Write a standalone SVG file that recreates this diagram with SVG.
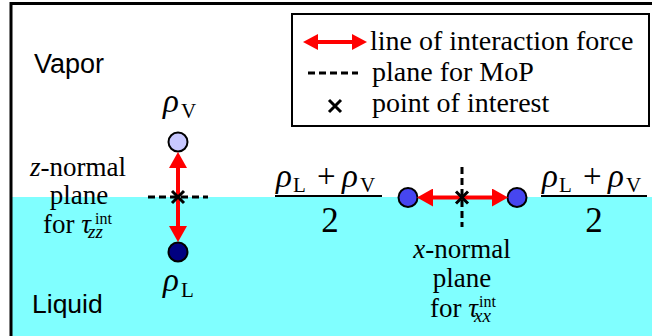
<svg xmlns="http://www.w3.org/2000/svg" width="652" height="336" viewBox="0 0 652 336">
<defs>
<style>
text{fill:#000}
.sans{font-family:'Liberation Sans',Arial,sans-serif}
.it{font-style:italic}
.arrow{stroke:#f00;stroke-width:4;fill:none}
.dash{stroke:#000;stroke-width:3;stroke-dasharray:7 4;fill:none}
.cross{stroke:#000;stroke-width:3;fill:none}
</style>
<marker id="head" markerUnits="userSpaceOnUse" markerWidth="16" markerHeight="18" refX="8" refY="9" orient="auto-start-reverse" viewBox="0 0 16 18">
<path d="M0,0 L16,9 L0,18 Z" fill="#f00"/>
</marker>
<marker id="headS" markerUnits="userSpaceOnUse" markerWidth="15" markerHeight="16" refX="7" refY="8" orient="auto-start-reverse" viewBox="0 0 15 16">
<path d="M0,0 L15,8 L0,16 Z" fill="#f00"/>
</marker>
</defs>
<rect x="12" y="197" width="640" height="139" fill="#80ffff"/>
<path d="M11,336 V3.5 H652" stroke="#000" stroke-width="3" fill="none"/>
<text class="sans" x="34" y="73" font-size="27">Vapor</text>
<text class="sans" x="32" y="313" font-size="26.5">Liquid</text>
<g font-family="Liberation Serif, Times New Roman, DejaVu Serif, serif">
<g id="legend">
<rect x="292" y="14" width="357" height="112" fill="#fff" stroke="#000" stroke-width="2"/>
<line class="arrow" x1="311" y1="42" x2="359" y2="42" marker-start="url(#headS)" marker-end="url(#headS)"/>
<text x="370" y="50" font-size="28">line of interaction force</text>
<line class="dash" x1="308" y1="73" x2="358" y2="73" stroke-dasharray="6 3"/>
<text x="372" y="81" font-size="28">plane for MoP</text>
<path class="cross" d="M329,100 L341,112 M341,100 L329,112"/>
<text x="372" y="112" font-size="28">point of interest</text>
</g>
<g id="z-plane">
<line class="dash" x1="148" y1="197" x2="208" y2="197"/>
<text x="78" y="176" font-size="27" text-anchor="middle"><tspan class="it">z</tspan>-normal</text>
<text x="79" y="204" font-size="27" text-anchor="middle">plane</text>
<text x="43" y="233" font-size="27">for <tspan class="it">τ</tspan><tspan class="it" font-size="19" x="88" y="238">zz</tspan><tspan font-size="16" x="95" y="224">int</tspan></text>
</g>
<g id="rhoV">
<circle cx="178" cy="142" r="9.5" fill="#c8c8ff" stroke="#000" stroke-width="2"/>
<text x="163" y="112" font-size="33"><tspan class="it">ρ</tspan><tspan font-size="21" x="181" y="118">V</tspan></text>
</g>
<g id="rhoL">
<circle cx="178" cy="252" r="9.5" fill="#000080" stroke="#000" stroke-width="2"/>
<text x="163" y="291" font-size="33"><tspan class="it">ρ</tspan><tspan font-size="21" x="181" y="297">L</tspan></text>
</g>
<g id="x-plane">
<line class="dash" x1="462" y1="167" x2="462" y2="227"/>
<text x="462" y="258" font-size="27" text-anchor="middle"><tspan class="it">x</tspan>-normal</text>
<text x="462" y="287" font-size="27" text-anchor="middle">plane</text>
<text x="430" y="317" font-size="27">for <tspan class="it">τ</tspan><tspan class="it" font-size="19" x="474" y="322">xx</tspan><tspan font-size="16" x="479" y="307">int</tspan></text>
</g>
<g id="rho-left">
<circle cx="408" cy="197.5" r="9.5" fill="#4646f0" stroke="#000" stroke-width="2"/>
</g>
<g id="rho-right">
<circle cx="517" cy="197.5" r="9.5" fill="#4646f0" stroke="#000" stroke-width="2"/>
</g>
<g id="frac-left">
<text x="276" y="187" font-size="33"><tspan class="it">ρ</tspan><tspan font-size="21" x="293" y="192">L</tspan><tspan x="317" y="187">+</tspan><tspan class="it" x="342">ρ</tspan><tspan font-size="21" x="360" y="192">V</tspan></text>
<line x1="275" y1="196" x2="382" y2="196" stroke="#000" stroke-width="2"/>
<text x="330" y="232" font-size="35" text-anchor="middle">2</text>
</g>
<g id="frac-right">
<text x="542" y="187" font-size="33"><tspan class="it">ρ</tspan><tspan font-size="21" x="559" y="192">L</tspan><tspan x="583" y="187">+</tspan><tspan class="it" x="608">ρ</tspan><tspan font-size="21" x="626" y="192">V</tspan></text>
<line x1="541" y1="196" x2="647" y2="196" stroke="#000" stroke-width="2"/>
<text x="594" y="232" font-size="35" text-anchor="middle">2</text>
</g>
</g>
<g id="connectors">
<line class="arrow" x1="178" y1="160" x2="178" y2="234" marker-start="url(#head)" marker-end="url(#head)"/>
<line class="arrow" x1="425" y1="197.5" x2="500" y2="197.5" marker-start="url(#head)" marker-end="url(#head)"/>
<path class="cross" d="M172,191 L184,203 M184,191 L172,203"/>
<path class="cross" d="M456,191.5 L468,203.5 M468,191.5 L456,203.5"/>
</g>
</svg>
